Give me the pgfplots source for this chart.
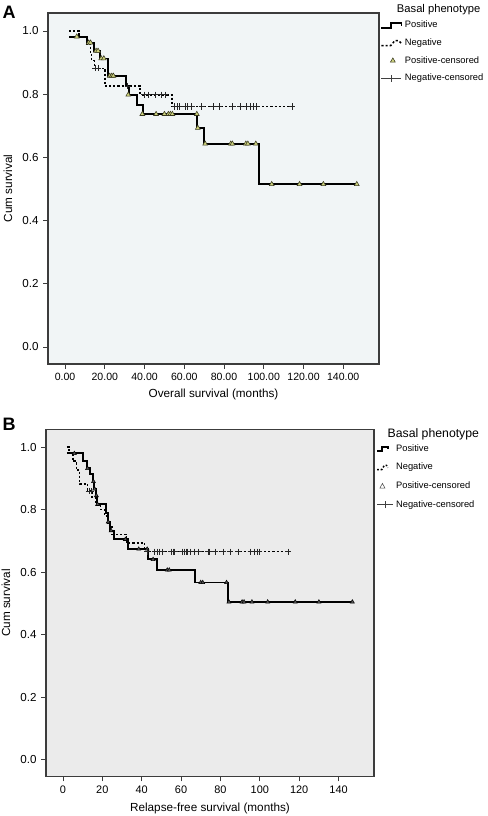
\documentclass[border=0pt]{standalone}
\usepackage{pgfplots}
\pgfplotsset{compat=1.18}
\usepackage{fontspec}
\setmainfont{Liberation Sans}
\definecolor{bgA}{RGB}{241,245,246}
\definecolor{bgB}{RGB}{235,235,235}
\definecolor{triA}{RGB}{205,210,125}
\definecolor{triEdge}{RGB}{55,55,30}
\definecolor{frame}{RGB}{60,60,60}

\pgfplotsset{
  kmstyle/.style={
    scale only axis,
    xmin=-8.6, xmax=158, ymin=-0.054, ymax=1.057,
    xtick={0,20,40,60,80,100,120,140},
    ytick={0,0.2,0.4,0.6,0.8,1.0},
    tick align=outside, xtick pos=lower, ytick pos=left,
    major tick length=3.5pt,
    axis line style={frame, line width=0.8pt},
    tick style={frame, line width=0.6pt},
    /pgf/number format/assume math mode=true,
    yticklabel style={font=\fontsize{8.7}{10}\selectfont, /pgf/number format/.cd, fixed, fixed zerofill, precision=1},
    label style={font=\fontsize{8.8}{10}\selectfont},
    ylabel={Cum survival},
    legend style={draw=none, fill=none, inner sep=0pt,
      font=\fontsize{7}{8}\selectfont, anchor=north west},
    legend cell align=left,
  },
  crossleg/.style={legend image code/.code={
      \draw[black!75, line width=0.5pt] (0pt,0pt) -- (#1,0pt);
      \draw[black!75, line width=0.5pt] (#1/2,-2.6pt) -- (#1/2,2.6pt);}},
}

\begin{document}
\begin{tikzpicture}
\path[use as bounding box] (0,0) rectangle (366pt,612pt);

% ---------------- Panel A ----------------
\begin{axis}[kmstyle,
  at={(36pt,339pt)}, anchor=south west,
  width=248.25pt, height=263.25pt,
  axis background/.style={fill=bgA},
  xticklabel style={font=\fontsize{7.9}{9}\selectfont, /pgf/number format/.cd, fixed, fixed zerofill, precision=2},
  xlabel={Overall survival (months)},
  ylabel style={at={(axis description cs:-0.121,0.5)}, anchor=center},
  xlabel style={at={(axis description cs:0.5,-0.088)}, anchor=center},
  legend style={at={(axis description cs:1.004,0.985)}, row sep=2.6pt},
]
\addplot[const plot, black, line width=1.4pt,
  legend image code/.code={\draw[black, line width=1.3pt] (0pt,-1.8pt) -- (7pt,-1.8pt) -- (7pt,1.8pt) -- (15pt,1.8pt) -- (15pt,-0.3pt);}] coordinates {
(2,0.982) (11.2,0.963) (14.6,0.937) (17.6,0.913) (21.8,0.858) (30.7,0.826)
(32,0.798) (36.4,0.767) (39,0.737) (66.3,0.693) (69.9,0.643) (97.8,0.515) (146.8,0.515)};
\addlegendentry{Positive}
\addplot[const plot, black, line width=1.1pt, dash pattern=on 1.6pt off 1.5pt,
  legend image code/.code={\draw[black, line width=1.1pt, dash pattern=on 1.6pt off 1.5pt] (0pt,-1.8pt) -- (7pt,-1.8pt) -- (10pt,1.8pt) -- (13pt,1.8pt) -- (15pt,-0.3pt);}] coordinates {
(2,1.0) (7,0.98) (11,0.959) (12.8,0.93) (13.4,0.906) (14.7,0.882) (20.1,0.826)
(37.7,0.798) (53.7,0.761) (114.2,0.761)};
\addlegendentry{Negative}
\addplot[only marks, mark=triangle*, mark size=2.1pt,
  mark options={fill=triA, draw=triEdge, line width=0.4pt}] coordinates {
(5.9,0.982) (11.9,0.963) (12.8,0.963) (15.6,0.937) (16.6,0.937)
(18.2,0.913) (19.5,0.913) (22.5,0.858) (23.5,0.858) (24.3,0.858)
(31.8,0.798) (38.9,0.737) (45.8,0.737) (50,0.737) (52,0.737) (53,0.737) (54,0.737)
(66.3,0.737) (66.8,0.693) (70.5,0.643) (83.4,0.643) (84.2,0.643) (91,0.643) (92,0.643)
(96,0.643) (104,0.515) (118,0.515) (130,0.515) (146.8,0.515)};
\addlegendentry{Positive-censored}
\addplot[only marks, mark=+, mark size=2.3pt, mark options={black!85, line width=0.5pt}, crossleg=15pt] coordinates {
(15.3,0.882) (16.5,0.882) (31.5,0.826) (39.9,0.798) (41.9,0.798) (45.3,0.798) (48.3,0.798)
(50.3,0.798) (55.2,0.761) (56.3,0.761) (57.6,0.761) (60.4,0.761) (61.6,0.761) (63.7,0.761)
(68.8,0.761) (74.6,0.761) (77.5,0.761) (84.4,0.761) (88,0.761) (91.4,0.761) (93,0.761)
(94.7,0.761) (96.4,0.761) (114.2,0.761)};
\addlegendentry{Negative-censored}
\end{axis}

% ---------------- Panel B ----------------
\begin{axis}[kmstyle,
  at={(34.5pt,29.5pt)}, anchor=south west,
  width=246pt, height=260.5pt,
  axis background/.style={fill=bgB},
  xticklabel style={font=\fontsize{8.2}{9}\selectfont},
  xlabel={Relapse-free survival (months)},
  ylabel style={at={(axis description cs:-0.122,0.5)}, anchor=center},
  xlabel style={at={(axis description cs:0.5,-0.092)}, anchor=center},
  legend style={at={(axis description cs:1.006,0.965)}, row sep=3.4pt},
]
\addplot[const plot, black, line width=1.4pt,
  legend image code/.code={\draw[black, line width=1.3pt] (0pt,-1.6pt) -- (3.5pt,-1.6pt) -- (3.5pt,1.6pt) -- (8pt,1.6pt) -- (8pt,-0.3pt);}] coordinates {
(2,0.98) (10.2,0.956) (12.2,0.932) (13.6,0.914) (15.3,0.89) (15.8,0.866) (16.6,0.845)
(17.4,0.817) (22,0.79) (22.8,0.761) (24,0.733) (26.1,0.705) (32.9,0.674) (43.1,0.641)
(47.9,0.607) (67,0.567) (84,0.505) (147,0.505)};
\addlegendentry{Positive}
\addplot[const plot, black, line width=1.1pt, dash pattern=on 1.6pt off 1.5pt,
  legend image code/.code={\draw[black, line width=1.1pt, dash pattern=on 1.4pt off 1.3pt] (0pt,-1.6pt) -- (3.5pt,-1.6pt) -- (5.5pt,1.6pt) -- (7pt,1.6pt) -- (8pt,-0.3pt);}] coordinates {
(2,1.0) (3,0.98) (5.1,0.955) (6.8,0.927) (8.5,0.882) (12.5,0.86) (14.8,0.84) (16.5,0.82)
(19,0.80) (21,0.78) (23,0.75) (24.9,0.721) (32.2,0.694) (41.4,0.666) (114.4,0.666)};
\addlegendentry{Negative}
\addplot[only marks, mark=triangle*, mark size=1.7pt,
  mark options={fill=black!65, draw=black, line width=0.4pt},
  legend image code/.code={\draw[black!70, line width=0.4pt, fill=white] (4pt,2pt) -- (2.1pt,-1.5pt) -- (5.9pt,-1.5pt) -- cycle;}] coordinates {
(5.8,0.98) (12.5,0.932) (15.5,0.89) (16.1,0.866) (17,0.845) (17.6,0.817) (23,0.761)
(24.5,0.733) (31.7,0.705) (38.5,0.674) (42.8,0.674) (45.8,0.641) (53,0.607) (54,0.607)
(70,0.567) (71,0.567) (83.1,0.567) (84.3,0.505) (91,0.505) (92,0.505) (96,0.505)
(104,0.505) (118,0.505) (130,0.505) (147,0.505)};
\addlegendentry{Positive-censored}
\addplot[only marks, mark=+, mark size=2.2pt, mark options={black!85, line width=0.5pt}, crossleg=12pt] coordinates {
(13.2,0.86) (14.3,0.86) (42.8,0.666) (46.5,0.666) (47.9,0.666) (49,0.666) (50.4,0.666)
(55,0.666) (56,0.666) (56.8,0.666) (60.6,0.666) (61.5,0.666) (62.5,0.666) (63.3,0.666)
(64.5,0.666) (66.5,0.666) (69,0.666) (73.6,0.666) (74.6,0.666) (77.5,0.666) (81.5,0.666)
(84.8,0.666) (88.9,0.666) (95.4,0.666) (97,0.666) (98.5,0.666) (99.6,0.666) (114.4,0.666)};
\addlegendentry{Negative-censored}
\end{axis}

% titles and panel letters
\node[font=\fontsize{8.4}{10}\selectfont] at (329pt,605pt) {Basal phenotype};
\node[font=\fontsize{9.2}{11}\selectfont] at (325pt,286.5pt) {Basal phenotype};
\node[font=\bfseries\fontsize{13.5}{15}\selectfont] at (6.9pt,602.5pt) {A};
\node[font=\bfseries\fontsize{13.5}{15}\selectfont] at (6.9pt,294pt) {B};
\end{tikzpicture}
\end{document}
